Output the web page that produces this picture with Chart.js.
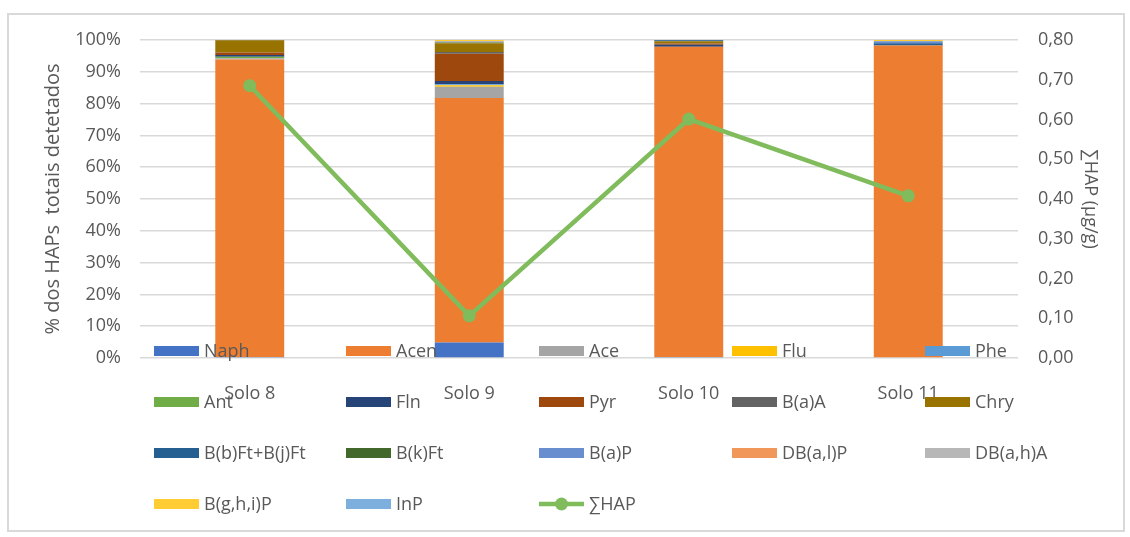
<!DOCTYPE html>
<html>
<head>
<meta charset="utf-8">
<script src="https://cdn.jsdelivr.net/npm/chart.js@4/dist/chart.umd.min.js"></script>
<style>
  html, body { margin: 0; padding: 0; background: #ffffff; }
  #wrap { width: 1130px; height: 537px; position: relative; }
</style>
</head>
<body>
<div id="wrap"><canvas id="c" width="1130" height="537"></canvas></div>
<script>
// Soil samples
const categories = ['Solo 8', 'Solo 9', 'Solo 10', 'Solo 11'];

// Share of each PAH in the total detected (%), per sample
const naph   = [0.3, 4.9, 0.3, 0.0];
const acen   = [93.6, 76.9, 97.6, 98.3];
const ace    = [0.4, 3.5, 0.0, 0.0];
const flu    = [0.0, 0.5, 0.0, 0.0];
const phe    = [0.0, 0.3, 0.0, 0.0];
const ant    = [0.4, 0.0, 0.0, 0.0];
const fln    = [0.6, 1.0, 0.6, 0.0];
const pyr    = [0.8, 8.6, 0.4, 0.0];
const baa    = [0.0, 0.5, 0.0, 0.0];
const chry   = [3.8, 2.8, 0.7, 0.0];
const bbjft  = [0.3, 0.0, 0.3, 0.7];
const bkft   = [0.0, 0.2, 0.2, 0.0];
const bap    = [0.0, 0.0, 0.0, 0.6];
const dbalp  = [0.0, 0.0, 0.0, 0.0];
const dbaha  = [0.0, 0.5, 0.0, 0.0];
const bghip  = [0.0, 0.4, 0.0, 0.4];
const inp    = [0.0, 0.0, 0.0, 0.0];

// Total PAH content (µg/g)
const sumHap = [0.685, 0.106, 0.601, 0.408];

// Axis tick values
const pctTicks = [0, 10, 20, 30, 40, 50, 60, 70, 80, 90, 100];
const hapTicks = [0, 0.1, 0.2, 0.3, 0.4, 0.5, 0.6, 0.7, 0.8];

const barSeries = [
  ['Naph', naph, '#4472C4'],
  ['Acen', acen, '#ED7D31'],
  ['Ace', ace, '#A5A5A5'],
  ['Flu', flu, '#FFC000'],
  ['Phe', phe, '#5B9BD5'],
  ['Ant', ant, '#70AD47'],
  ['Fln', fln, '#264478'],
  ['Pyr', pyr, '#9E480E'],
  ['B(a)A', baa, '#636363'],
  ['Chry', chry, '#997300'],
  ['B(b)Ft+B(j)Ft', bbjft, '#255E91'],
  ['B(k)Ft', bkft, '#43682B'],
  ['B(a)P', bap, '#698ED0'],
  ['DB(a,l)P', dbalp, '#F1975A'],
  ['DB(a,h)A', dbaha, '#B7B7B7'],
  ['B(g,h,i)P', bghip, '#FFCD33'],
  ['InP', inp, '#7CAFDD']
];
const lineColor = '#80BC5C';
const textColor = '#595959';
const fontFamily = '"Open Sans", "Liberation Sans", sans-serif';

const datasets = barSeries.map(([label, data, color]) => ({
  type: 'bar',
  label,
  data,
  backgroundColor: color,
  borderWidth: 0,
  yAxisID: 'y',
  order: 1,
  categoryPercentage: 1,
  barPercentage: 0.314
}));
datasets.push({
  type: 'line',
  label: '∑HAP',
  data: sumHap,
  borderColor: lineColor,
  backgroundColor: lineColor,
  borderWidth: 4.5,
  pointRadius: 6.5,
  pointBackgroundColor: lineColor,
  pointBorderWidth: 0,
  tension: 0,
  yAxisID: 'y1',
  order: 0
});

// Frame and white background
const framePlugin = {
  id: 'frame',
  beforeDraw(chart) {
    const ctx = chart.ctx;
    ctx.save();
    ctx.fillStyle = '#ffffff';
    ctx.fillRect(0, 0, chart.width, chart.height);
    ctx.strokeStyle = '#D9D9D9';
    ctx.lineWidth = 2;
    ctx.strokeRect(8, 14, 1116, 517);
    ctx.restore();
  }
};

// Legend laid out in a 5-column grid across the lower part of the figure
const gridLegend = {
  id: 'gridLegend',
  afterDraw(chart) {
    const ctx = chart.ctx;
    const colX = [154, 346, 539, 732, 925];
    const rowY = [351, 402, 453, 504];
    const sw = 45, sh = 10;
    ctx.save();
    ctx.font = '18px ' + fontFamily;
    ctx.textBaseline = 'middle';
    ctx.textAlign = 'left';
    chart.data.datasets.forEach((ds, i) => {
      const x = colX[i % 5];
      const y = rowY[Math.floor(i / 5)];
      if (ds.type === 'line') {
        ctx.strokeStyle = ds.borderColor;
        ctx.lineWidth = 4.5;
        ctx.beginPath();
        ctx.moveTo(x, y);
        ctx.lineTo(x + sw, y);
        ctx.stroke();
        ctx.fillStyle = ds.borderColor;
        ctx.beginPath();
        ctx.arc(x + sw / 2, y, 6.5, 0, Math.PI * 2);
        ctx.fill();
      } else {
        ctx.fillStyle = ds.backgroundColor;
        ctx.fillRect(x, y - sh / 2, sw, sh);
      }
      ctx.fillStyle = textColor;
      ctx.fillText(ds.label, x + sw + 5, y + 1);
    });
    ctx.restore();
  }
};

new Chart(document.getElementById('c'), {
  data: { labels: categories, datasets },
  plugins: [framePlugin, gridLegend],
  options: {
    responsive: false,
    animation: false,
    layout: { padding: { top: 40, left: 0, right: 0, bottom: 0 } },
    plugins: {
      legend: { display: false },
      tooltip: { enabled: false }
    },
    scales: {
      x: {
        stacked: true,
        grid: { display: false },
        border: { display: false },
        ticks: {
          color: textColor,
          font: { family: fontFamily, size: 18 },
          padding: 17,
          maxRotation: 0
        },
        afterFit(axis) { axis.height = 179; }
      },
      y: {
        position: 'left',
        stacked: true,
        min: 0,
        max: 100,
        afterBuildTicks(axis) { axis.ticks = pctTicks.map(v => ({ value: v })); },
        ticks: {
          color: textColor,
          font: { family: fontFamily, size: 18 },
          padding: 19,
          callback: v => v + '%'
        },
        grid: { color: '#D9D9D9', lineWidth: 1.5, drawTicks: false },
        border: { display: false },
        title: {
          display: true,
          text: '% dos HAPs  totais detetados',
          color: textColor,
          font: { family: fontFamily, size: 20 },
          padding: { top: 41, bottom: 0 }
        },
        afterFit(axis) { axis.width = 140; }
      },
      y1: {
        position: 'right',
        min: 0,
        max: 0.8,
        afterBuildTicks(axis) { axis.ticks = hapTicks.map(v => ({ value: v })); },
        ticks: {
          color: textColor,
          font: { family: fontFamily, size: 18 },
          padding: 20,
          callback: v => v.toFixed(2).replace('.', ',')
        },
        grid: { display: false, drawTicks: false },
        border: { display: false },
        title: {
          display: true,
          text: '∑HAP (µg/g)',
          color: textColor,
          font: { family: fontFamily, size: 18 },
          padding: { top: 29, bottom: 0 }
        },
        afterFit(axis) { axis.width = 112; }
      }
    }
  }
});
</script>
</body>
</html>
